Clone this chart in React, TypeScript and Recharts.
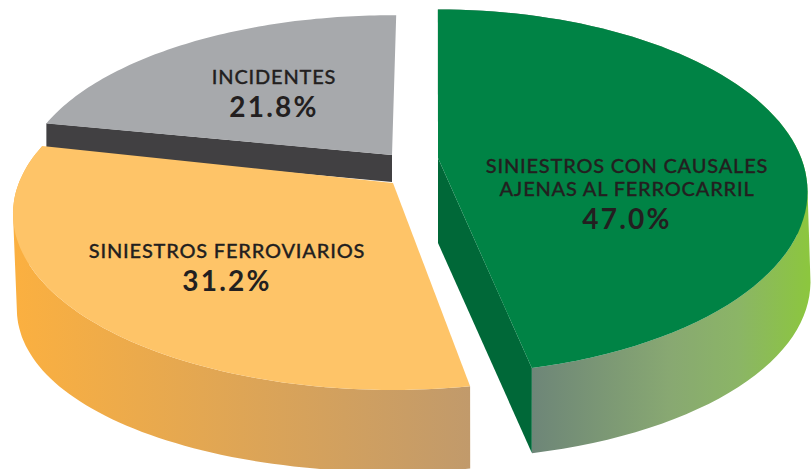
import { PieChart, Pie } from "recharts";

const categories = ["INCIDENTES", "SINIESTROS CON CAUSALES AJENAS AL FERROCARRIL", "SINIESTROS FERROVIARIOS"];
const values = [21.8, 47.0, 31.2];

const labelLines = [["INCIDENTES"], ["SINIESTROS CON CAUSALES", "AJENAS AL FERROCARRIL"], ["SINIESTROS FERROVIARIOS"]];

const data = categories.map((name, i) => ({ name, value: values[i], lines: labelLines[i] }));

const TILT = 176 / 365; // vertical squash of the pie

const sliceStyle: Record<string, any> = {
  [categories[0]]: { dx: -24, dy: -15, sx: 1, sy: 0.933, persp: 0.175, startShift: 0, endShift: -0.8, top: "#a7a9ac", depth: 27, labelX: 274, labelY: 84 },
  [categories[1]]: { dx: 22, dy: -12, sx: 0.995, sy: 1, persp: 0.185, startShift: 0, endShift: 1.4, top: "#008345", depth: 85, sideDrop: 6, sideShift: 3, side: "url(#greenSide)", cut: "#006838", labelX: 627, labelY: 173 },
  [categories[2]]: { dx: -23, dy: 13, sx: 1.025, sy: 0.97, persp: 0.175, startShift: -1, endShift: -1.5, top: "#fec468", depth: 82, sideDrop: 13, sideShift: 4, side: "url(#yellowSide)", labelX: 227, labelY: 258 },
};

type Pt = { x: number; y: number };

function project(angle: number, r: number, st: any) {
  const a = (angle * Math.PI) / 180;
  const w = 1 + st.persp * Math.sin(a);
  return { x: (r * st.sx * Math.cos(a)) / w, y: (-r * st.sy * TILT * Math.sin(a)) / w };
}

const toD = (pts: Pt[]) => pts.map((p, i) => `${i ? "L" : "M"}${p.x.toFixed(1)},${p.y.toFixed(1)}`).join(" ");

// one quad per arc step, all wound the same way so they merge into a single fill
function wallPath(arc: Pt[], lowered: Pt[]) {
  return arc
    .slice(1)
    .map((p, i) => {
      const quad = [arc[i], p, lowered[i + 1], lowered[i]];
      const area = quad.reduce((sum, q, j) => {
        const n = quad[(j + 1) % 4];
        return sum + q.x * n.y - n.x * q.y;
      }, 0);
      return `${toD(area < 0 ? quad.reverse() : quad)} Z`;
    })
    .join(" ");
}

function Slice3D(props: any) {
  const { cx, cy, outerRadius, startAngle, endAngle, name, value } = props;
  const st = sliceStyle[name];
  const ox = cx + st.dx;
  const oy = cy + st.dy;
  const from = startAngle + st.startShift;
  const to = endAngle + st.endShift;
  const arc: Pt[] = [];
  const lowered: Pt[] = [];
  const steps = 80;
  for (let i = 0; i <= steps; i++) {
    const angle = from + ((to - from) * i) / steps;
    const p = project(angle, outerRadius, st);
    const c2 = Math.cos((angle * Math.PI) / 180) ** 2;
    arc.push({ x: ox + p.x, y: oy + p.y });
    // the lower rim sits a little further down and across at the sides
    lowered.push({ x: ox + p.x + (st.sideShift || 0) * c2, y: oy + p.y + st.depth + (st.sideDrop || 0) * c2 });
  }
  const first = arc[0];
  const last = arc[arc.length - 1];
  const topPath = `M${ox},${oy} ${toD(arc).replace("M", "L")} Z`;
  const lines: string[] = props.lines;

  return (
    <g>
      {st.side && <path d={wallPath(arc, lowered)} fill={st.side} />}
      {st.cut && (
        <path
          d={`M${ox},${oy} L${last.x},${last.y} L${last.x},${last.y + st.depth} L${ox},${oy + st.depth} Z`}
          fill={st.cut}
        />
      )}
      {!st.side && (
        <path
          d={`M${ox},${oy} L${first.x},${first.y} L${first.x},${first.y + st.depth} L${ox},${oy + st.depth} Z`}
          fill="#414042"
        />
      )}
      <path d={topPath} fill={st.top} />
      <text textAnchor="middle" fontFamily="Lato" fill="#231f20">
        {lines.map((line, i) => (
          <tspan key={line} x={st.labelX} y={st.labelY + i * 23} fontSize={20} fontWeight={500} letterSpacing={0.8} stroke="#231f20" strokeWidth={0.3}>
            {line}
          </tspan>
        ))}
        <tspan x={st.labelX} y={st.labelY + (lines.length - 1) * 23 + 33} fontSize={28} fontWeight={700} letterSpacing={2.2}>
          {value.toFixed(1)}%
        </tspan>
      </text>
    </g>
  );
}

export default function App() {
  return (
    <div style={{ position: "fixed", left: 0, top: 0, width: 812, height: 469, background: "#fff" }}>
      <PieChart width={812} height={469} margin={{ top: 0, right: 0, bottom: 0, left: 0 }}>
        <defs>
          <linearGradient id="greenSide" gradientUnits="userSpaceOnUse" x1="530" y1="0" x2="808" y2="0">
            <stop offset="0" stopColor="#6d8578" />
            <stop offset="0.5" stopColor="#88a872" />
            <stop offset="0.75" stopColor="#8bb566" />
            <stop offset="1" stopColor="#8cc63f" />
          </linearGradient>
          <linearGradient id="yellowSide" gradientUnits="userSpaceOnUse" x1="13" y1="0" x2="470" y2="0">
            <stop offset="0" stopColor="#fbb040" />
            <stop offset="1" stopColor="#c19a6b" />
          </linearGradient>
        </defs>
        <Pie
          data={data}
          dataKey="value"
          nameKey="name"
          cx={416}
          cy={170}
          innerRadius={0}
          outerRadius={365}
          startAngle={168.5}
          endAngle={-191.5}
          paddingAngle={0}
          stroke="none"
          shape={Slice3D}
          isAnimationActive={false}
        />
      </PieChart>
    </div>
  );
}
